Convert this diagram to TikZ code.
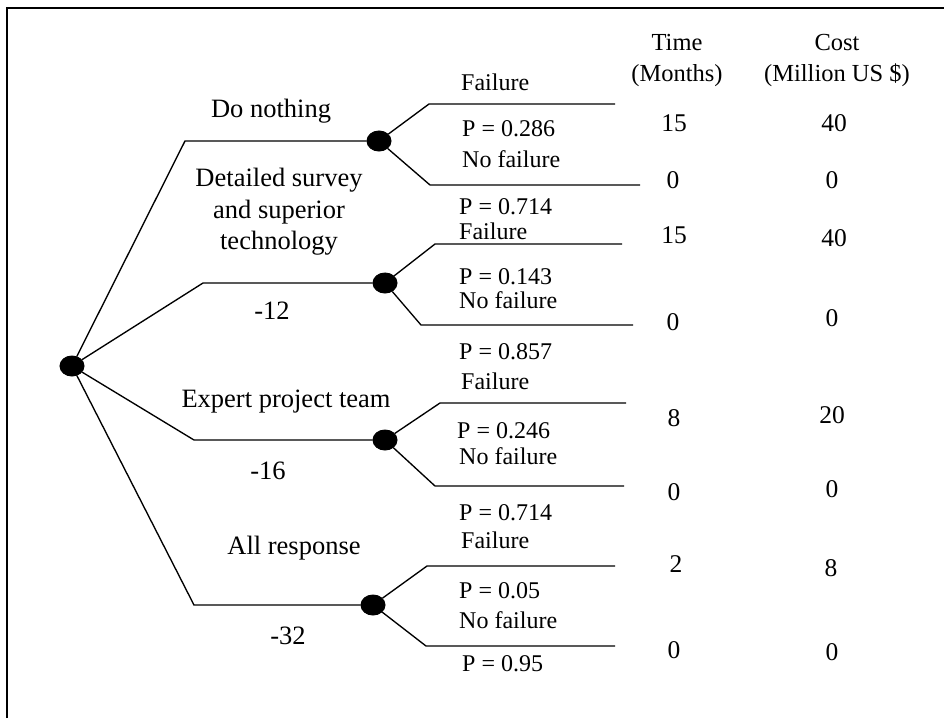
\documentclass[tikz,border=0pt]{standalone}
\usepackage{fontspec}
\setmainfont{Liberation Serif}
\usetikzlibrary{shapes.geometric}
\begin{document}
\begin{tikzpicture}[x=1pt,y=-1pt,
  chance/.style={ellipse,fill=black,draw=black,line width=1pt,minimum width=24pt,minimum height=20pt,inner sep=0pt},
  branch/.style={line width=1.35pt},
  frame/.style={line width=2pt},
  big/.style={inner sep=0pt,text height=18pt,text depth=0pt,font=\fontsize{26.5}{31.5}\selectfont},
  bigml/.style={inner sep=0pt,align=center,font=\fontsize{26.5}{31.5}\selectfont},
  small/.style={inner sep=0pt,anchor=west,text height=16.5pt,text depth=0pt,font=\fontsize{24}{28}\selectfont},
  val/.style={inner sep=0pt,text height=17pt,text depth=0pt,font=\fontsize{25.5}{30}\selectfont},
  hdr/.style={inner sep=0pt,align=center,font=\fontsize{24.5}{31}\selectfont}]
\useasboundingbox (0,0) rectangle (944,718);
% frame
\coordinate (fbl) at (7,718);
\coordinate (ftl) at (7,8);
\coordinate (ftr) at (944,8);
\draw[frame] (fbl) -- (ftl) -- (ftr);

% nodes
\node[chance] (root) at (72,366) {};
\node[chance] (n1) at (379,141) {};
\node[chance] (n2) at (385,283) {};
\node[chance] (n3) at (385,440) {};
\node[chance] (n4) at (373,605) {};

% decision branch start points
\coordinate (a1) at (185,141);
\coordinate (a2) at (203,283);
\coordinate (a3) at (194,440);
\coordinate (a4) at (194,605);
\draw[branch] (root) -- (a1) -- (n1);
\draw[branch] (root) -- (a2) -- (n2);
\draw[branch] (root) -- (a3) -- (n3);
\draw[branch] (root) -- (a4) -- (n4);

% chance branches
\coordinate (f1a) at (429,104); \coordinate (f1b) at (615,104);
\coordinate (g1a) at (430,185); \coordinate (g1b) at (640,185);
\coordinate (f2a) at (435,244); \coordinate (f2b) at (622,244);
\coordinate (g2a) at (421,325); \coordinate (g2b) at (633,325);
\coordinate (f3a) at (440,403); \coordinate (f3b) at (626,403);
\coordinate (g3a) at (435,486); \coordinate (g3b) at (624,486);
\coordinate (f4a) at (427,566); \coordinate (f4b) at (615,566);
\coordinate (g4a) at (426,646); \coordinate (g4b) at (615,646);
\draw[branch] (n1) -- (f1a) -- (f1b);
\draw[branch] (n1) -- (g1a) -- (g1b);
\draw[branch] (n2) -- (f2a) -- (f2b);
\draw[branch] (n2) -- (g2a) -- (g2b);
\draw[branch] (n3) -- (f3a) -- (f3b);
\draw[branch] (n3) -- (g3a) -- (g3b);
\draw[branch] (n4) -- (f4a) -- (f4b);
\draw[branch] (n4) -- (g4a) -- (g4b);

% option labels
\node[big] (l1) at (271,108) {Do nothing};
\node[bigml] (l2) at (279,212) {Detailed survey\\and superior\\technology};
\node[big] (c2) at (272,310) {-12};
\node[big] (l3) at (286,398) {Expert project team};
\node[big] (c3) at (268,470) {-16};
\node[big] (l4) at (294,545) {All response};
\node[big] (c4) at (288,635) {-32};

% chance labels
\node[small] (s1) at (461,82) {Failure};
\node[small] (s2) at (462,128) {P = 0.286};
\node[small] (s3) at (462,159) {No failure};
\node[small] (s4) at (459,206) {P = 0.714};
\node[small] (s5) at (459,231) {Failure};
\node[small] (s6) at (459,276) {P = 0.143};
\node[small] (s7) at (459,300) {No failure};
\node[small] (s8) at (459,351) {P = 0.857};
\node[small] (s9) at (461,381) {Failure};
\node[small] (s10) at (457,430) {P = 0.246};
\node[small] (s11) at (459,456) {No failure};
\node[small] (s12) at (459,512) {P = 0.714};
\node[small] (s13) at (461,540) {Failure};
\node[small] (s14) at (459,590) {P = 0.05};
\node[small] (s15) at (459,620) {No failure};
\node[small] (s16) at (462,663) {P = 0.95};

% headers
\node[hdr] (h1) at (677,60) {Time\\(Months)};
\node[hdr] (h2) at (837,60) {Cost\\(Million US \$)};

% values
\node[val] (t1) at (674,123) {15};  \node[val] (k1) at (834,123) {40};
\node[val] (t2) at (673,180) {0};   \node[val] (k2) at (832,180) {0};
\node[val] (t3) at (674,235) {15};  \node[val] (k3) at (834,238) {40};
\node[val] (t4) at (673,322) {0};   \node[val] (k4) at (832,318) {0};
\node[val] (t5) at (674,418) {8};   \node[val] (k5) at (832,415) {20};
\node[val] (t6) at (674,492) {0};   \node[val] (k6) at (832,489) {0};
\node[val] (t7) at (676,564) {2};   \node[val] (k7) at (831,568) {8};
\node[val] (t8) at (674,650) {0};   \node[val] (k8) at (832,652) {0};
\end{tikzpicture}
\end{document}
